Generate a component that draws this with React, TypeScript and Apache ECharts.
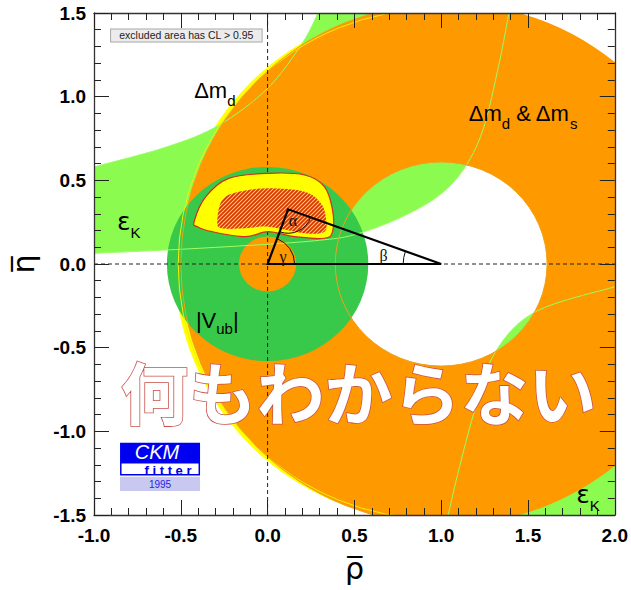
import React, { useEffect, useRef } from "react";
import * as echarts from "echarts";

// ---------------- data: the (rho-bar, eta-bar) plane ----------------
const rhoRange = [-1.0, 2.0];
const etaRange = [-1.5, 1.5];
const tickStep = 0.5;

// ellipses / circles: [centre rho, centre eta, radius along rho, radius along eta]
const deltaMdOuter = [0.97, 0.0, 1.505, 1.54];
const deltaMdContour = [0.975, 0.0, 1.49, 1.525];
const deltaMsOuter = [1.03, 0.0, 1.53, 1.56];
const deltaMInner = [1.0, 0.0, 0.61, 0.61];
const vubOuter = [0.0, 0.0, 0.58, 0.58];
const vubInner = [0.0, 0.0, 0.165, 0.165];

// epsilon_K band limits [rho, eta]
const epsKLower = [
  [-1.0, 0.064], [-0.5, 0.088], [0.0, 0.118], [0.3, 0.142], [0.5, 0.175],
  [0.75, 0.27], [0.975, 0.4], [1.125, 0.56], [1.24, 0.8], [1.33, 1.18], [1.39, 1.5],
];
const epsKUpper = [
  [-1.0, 0.58], [-0.58, 0.7], [-0.28, 0.83], [0.0, 1.05], [0.2, 1.32], [0.29, 1.5],
];
const epsKLowerRight = [
  [1.04, -1.5], [1.106, -1.21], [1.199, -0.853], [1.313, -0.524], [1.544, -0.285], [2.0, -0.136],
];

// global fit CL contour
const clOuter = [
  [-0.423, 0.253], [-0.356, 0.402], [-0.224, 0.512], [0.004, 0.542], [0.213, 0.532],
  [0.327, 0.462], [0.374, 0.323], [0.374, 0.193], [0.327, 0.154], [0.156, 0.163],
  [0.004, 0.193], [-0.129, 0.163], [-0.319, 0.193], [-0.404, 0.223],
];
const clInner = [
  [-0.29, 0.253], [-0.262, 0.383], [-0.167, 0.432], [0.004, 0.452], [0.213, 0.432],
  [0.307, 0.363], [0.336, 0.273], [0.327, 0.193], [0.213, 0.184], [0.004, 0.223],
  [-0.129, 0.213], [-0.262, 0.213],
];

// unitarity triangle: origin, (1,0), apex
const utVertices = [[0.0, 0.0], [1.0, 0.0], [0.118, 0.327]];
const referenceLines = [
  [[0.0, -1.5], [0.0, 1.5]],
  [[-1.0, 0.0], [2.0, 0.0]],
];

// annotation anchors in data coordinates
const anchorDmd = [-0.423, 1.034];
const anchorDmds = [1.159, 0.897];
const anchorEpsLeft = [-0.867, 0.254];
const anchorEpsRight = [1.778, -1.375];
const anchorVub = [-0.413, -0.335];
const anchorNothing = [0.523, -0.753];
const anchorClNote = [-0.468, 1.366];
const anchorLogo = [-0.85, -1.068];
const anchorGamma = [0.089, 0.044];
const anchorAlpha = [0.146, 0.257];
const anchorBeta = [0.668, 0.05];

// ---------------- helpers ----------------
const f = (n: number) => n.toFixed(2);

function ellipseD(api: any, e: number[], ccw: boolean, leftHalfOnly = false) {
  const [x, y] = api.coord([e[0], e[1]]);
  const rx = api.size([e[2], 0], [e[0], e[1]])[0];
  const ry = api.size([0, e[3]], [e[0], e[1]])[1];
  if (leftHalfOnly) {
    return `M${f(x)} ${f(y - ry)} A${f(rx)} ${f(ry)} 0 0 0 ${f(x - rx)} ${f(y)} A${f(rx)} ${f(ry)} 0 0 0 ${f(x)} ${f(y + ry)}`;
  }
  const s = ccw ? 0 : 1;
  const pts = ccw
    ? [[x, y - ry], [x - rx, y], [x, y + ry], [x + rx, y]]
    : [[x, y + ry], [x - rx, y], [x, y - ry], [x + rx, y]];
  let d = `M${f(x + rx)} ${f(y)}`;
  for (const p of pts) d += ` A${f(rx)} ${f(ry)} 0 0 ${s} ${f(p[0])} ${f(p[1])}`;
  return d + " Z";
}

// Catmull-Rom spline through the given pixel points
function splineD(pts: number[][], start: string, closed = false) {
  const n = pts.length;
  const get = (i: number) => (closed ? pts[(i + n) % n] : pts[Math.max(0, Math.min(n - 1, i))]);
  let d = `${start}${f(pts[0][0])} ${f(pts[0][1])}`;
  const segs = closed ? n : n - 1;
  for (let i = 0; i < segs; i++) {
    const p0 = get(i - 1), p1 = get(i), p2 = get(i + 1), p3 = get(i + 2);
    const c1 = [p1[0] + (p2[0] - p0[0]) / 6, p1[1] + (p2[1] - p0[1]) / 6];
    const c2 = [p2[0] - (p3[0] - p1[0]) / 6, p2[1] - (p3[1] - p1[1]) / 6];
    d += ` C${f(c1[0])} ${f(c1[1])} ${f(c2[0])} ${f(c2[1])} ${f(p2[0])} ${f(p2[1])}`;
  }
  return closed ? d + " Z" : d;
}

const toPx = (api: any, pts: number[][]) => pts.map((p) => api.coord(p));

const SANS = '"Liberation Sans", Arial, Helvetica, sans-serif';

export default function App() {
  const ref = useRef<HTMLDivElement>(null);

  useEffect(() => {
    if (!ref.current) return;
    const chart = echarts.init(ref.current, null, { renderer: "svg" });

    // hatch pattern for the inner CL region
    const tile = document.createElement("canvas");
    tile.width = 4;
    tile.height = 4;
    const g = tile.getContext("2d")!;
    g.fillStyle = "#ffe030";
    g.fillRect(0, 0, 4, 4);
    g.strokeStyle = "#dc2e1a";
    g.lineWidth = 1.8;
    g.beginPath();
    g.moveTo(0, 4); g.lineTo(4, 0);
    g.moveTo(-1, 1); g.lineTo(1, -1);
    g.moveTo(3, 5); g.lineTo(5, 3);
    g.stroke();
    const hatch: any = { image: tile, repeat: "repeat", imageWidth: 4, imageHeight: 4 };

    const custom = (name: string, z: number, clip: boolean, build: (api: any) => any) => ({
      type: "custom",
      name,
      coordinateSystem: "cartesian2d",
      xAxisIndex: 0,
      yAxisIndex: 0,
      data: [[0, 0]],
      clip,
      silent: true,
      z,
      renderItem: (_p: any, api: any) => build(api),
    });

    const ring = (outer: number[], inner: number[], color: string) => (api: any) => ({
      type: "path",
      shape: { pathData: ellipseD(api, outer, false) + " " + ellipseD(api, inner, true) },
      style: { fill: color, stroke: "none" },
    });

    const sub = (size: number) => ({ fontSize: size, fontFamily: SANS, fill: "#000", verticalAlign: "bottom" });

    const axisCommon = {
      type: "value",
      interval: tickStep,
      z: 30,
      axisLine: { show: true, onZero: false, lineStyle: { color: "#333", width: 1.3 } },
      axisTick: { show: true, inside: true, length: 15, lineStyle: { color: "#222", width: 1 } },
      minorTick: { show: true, splitNumber: 5, length: 7, lineStyle: { color: "#222", width: 1 } },
      splitLine: { show: false },
      minorSplitLine: { show: false },
    };
    const labelStyle = {
      fontSize: 19,
      fontWeight: "bold",
      fontFamily: SANS,
      color: "#000",
      formatter: (v: number) => v.toFixed(1),
    };

    const option: any = {
      animation: false,
      backgroundColor: "#fff",
      grid: { left: 93, top: 13, width: 527, height: 502, show: false },
      xAxis: [
        {
          ...axisCommon,
          min: rhoRange[0],
          max: rhoRange[1],
          position: "bottom",
          name: "ρ\u0305",
          nameLocation: "middle",
          nameGap: 38,
          nameTextStyle: { fontSize: 30, fontFamily: '"DejaVu Sans", sans-serif', color: "#000" },
          axisLabel: { ...labelStyle, margin: 11 },
        },
        {
          ...axisCommon,
          min: rhoRange[0],
          max: rhoRange[1],
          position: "top",
          axisLabel: { show: false },
        },
      ],
      yAxis: [
        {
          ...axisCommon,
          min: etaRange[0],
          max: etaRange[1],
          position: "left",
          name: "η\u0305",
          nameLocation: "middle",
          nameGap: 56,
          nameTextStyle: { fontSize: 30, fontFamily: '"DejaVu Sans", sans-serif', color: "#000" },
          axisLabel: { ...labelStyle, margin: 8 },
        },
        {
          ...axisCommon,
          min: etaRange[0],
          max: etaRange[1],
          position: "right",
          axisLabel: { show: false },
        },
      ],
      series: [
        custom("Δm_d", 2, true, ring(deltaMdOuter, deltaMInner, "#ffff00")),
        custom("ε_K", 3, true, (api: any) => {
          const lo = toPx(api, epsKLower);
          const hi = toPx(api, epsKUpper).slice().reverse();
          const lr = toPx(api, epsKLowerRight);
          const corner = api.coord([rhoRange[1], etaRange[0]]);
          return {
            type: "group",
            children: [
              {
                type: "path",
                shape: { pathData: splineD(lo, "M") + " " + splineD(hi, "L") + " Z" },
                style: { fill: "#8cfb50" },
              },
              {
                type: "path",
                shape: { pathData: splineD(lr, "M") + ` L${f(corner[0])} ${f(corner[1])} Z` },
                style: { fill: "#8cfb50" },
              },
            ],
          };
        }),
        custom("Δm_d & Δm_s", 4, true, ring(deltaMsOuter, deltaMInner, "#fe9900")),
        custom("|V_ub|", 5, true, ring(vubOuter, vubInner, "#38c84a")),
        custom("outlines", 6, true, (api: any) => ({
          type: "group",
          children: [
            { type: "path", shape: { pathData: splineD(toPx(api, epsKLower), "M") }, style: { fill: "none", stroke: "#9cff66", lineWidth: 1 } },
            { type: "path", shape: { pathData: splineD(toPx(api, epsKUpper), "M") }, style: { fill: "none", stroke: "#9cff66", lineWidth: 1 } },
            { type: "path", shape: { pathData: splineD(toPx(api, epsKLowerRight), "M") }, style: { fill: "none", stroke: "#9cff66", lineWidth: 1 } },
            { type: "path", shape: { pathData: ellipseD(api, deltaMdContour, false, true) }, style: { fill: "none", stroke: "#f4f000", lineWidth: 1 } },
            { type: "path", shape: { pathData: ellipseD(api, deltaMsOuter, false, true) }, style: { fill: "none", stroke: "#f0a020", lineWidth: 1 } },
            { type: "path", shape: { pathData: ellipseD(api, deltaMInner, false) }, style: { fill: "none", stroke: "#f0a020", lineWidth: 1 } },
          ],
        })),
        custom("reference", 7, true, (api: any) => ({
          type: "group",
          children: referenceLines.map((l) => {
            const a = api.coord(l[0]);
            const b = api.coord(l[1]);
            return {
              type: "line",
              shape: { x1: a[0], y1: a[1], x2: b[0], y2: b[1] },
              style: { stroke: "#222", lineWidth: 1, lineDash: [4, 3] },
            };
          }),
        })),
        custom("CL", 8, true, (api: any) => ({
          type: "group",
          children: [
            {
              type: "path",
              shape: { pathData: splineD(toPx(api, clOuter), "M", true) },
              style: { fill: "#ffff00", stroke: "#d42c1c", lineWidth: 1.2 },
            },
            {
              type: "path",
              shape: { pathData: splineD(toPx(api, clInner), "M", true) },
              style: { fill: hatch, stroke: "none" },
            },
          ],
        })),
        custom("triangle", 9, true, (api: any) => {
          const [O, B, A] = toPx(api, utVertices);
          const ang = (p: number[], q: number[]) => Math.atan2(q[1] - p[1], q[0] - p[0]);
          const arc = (c: number[], r: number, s: number, e: number) => ({
            type: "arc",
            shape: { cx: c[0], cy: c[1], r, startAngle: s, endAngle: e, clockwise: true },
            style: { stroke: "#111", fill: "none", lineWidth: 1 },
          });
          const greek = (t: string, p: number[]) => {
            const q = api.coord(p);
            return {
              type: "text",
              x: q[0],
              y: q[1],
              style: { text: t, fontSize: 16, fontFamily: '"Liberation Serif", serif', fill: "#111", align: "center", verticalAlign: "middle" },
            };
          };
          let bEnd = ang(B, A);
          if (bEnd < Math.PI) bEnd += Math.PI * 2;
          return {
            type: "group",
            children: [
              {
                type: "polygon",
                shape: { points: [O, B, A] },
                style: { fill: "none", stroke: "#000", lineWidth: 2.2, lineJoin: "miter" },
              },
              arc(O, 27, ang(O, A), ang(O, B)),
              arc(A, 24, ang(A, B), ang(A, O)),
              arc(B, 38, Math.PI, bEnd),
              greek("γ", anchorGamma),
              greek("α", anchorAlpha),
              greek("β", anchorBeta),
            ],
          };
        }),
        custom("labels", 10, false, (api: any) => {
          const at = (p: number[]) => api.coord(p);
          const dmd = at(anchorDmd);
          const dmds = at(anchorDmds);
          const epsL = at(anchorEpsLeft);
          const epsR = at(anchorEpsRight);
          const vub = at(anchorVub);
          const nothing = at(anchorNothing);
          const note = at(anchorClNote);
          const logo = at(anchorLogo);
          const main = (size: number, lh: number, family = SANS) => ({ fontSize: size, fontFamily: family, fill: "#000", lineHeight: lh });
          const epsText = (p: number[]) => ({
            type: "text",
            x: p[0],
            y: p[1],
            style: {
              text: "{a|ε}{b|K}",
              align: "left",
              verticalAlign: "middle",
              rich: { a: main(25, 37, '"DejaVu Sans", sans-serif'), b: sub(15) },
            },
          });
          return {
            type: "group",
            children: [
              {
                type: "text",
                x: dmd[0],
                y: dmd[1],
                style: { text: "{a|Δm}{b|d}", align: "left", verticalAlign: "middle", rich: { a: main(22, 34), b: sub(15) } },
              },
              {
                type: "text",
                x: dmds[0],
                y: dmds[1],
                style: {
                  text: "{a|Δm}{b|d}{a| & Δm}{b|s}",
                  align: "left",
                  verticalAlign: "middle",
                  rich: { a: main(22, 34), b: sub(15) },
                },
              },
              epsText(epsL),
              epsText(epsR),
              {
                type: "text",
                x: vub[0],
                y: vub[1],
                style: {
                  text: "{a||V}{b|ub}{a||}",
                  align: "left",
                  verticalAlign: "middle",
                  rich: { a: main(22, 32), b: sub(15) },
                },
              },
              {
                type: "text",
                x: note[0],
                y: note[1],
                style: {
                  text: "excluded area has CL > 0.95",
                  fontSize: 10.5,
                  fontFamily: SANS,
                  fill: "#222",
                  align: "center",
                  verticalAlign: "middle",
                  backgroundColor: "#ececec",
                  borderColor: "#a8a8a8",
                  borderWidth: 1,
                  padding: [1, 8, 0, 8],
                },
              },
              {
                type: "group",
                x: logo[0],
                y: logo[1],
                children: [
                  { type: "rect", shape: { x: 0, y: 0, width: 80, height: 20 }, style: { fill: "#0000f0" } },
                  {
                    type: "text",
                    x: 37,
                    y: 9.5,
                    style: { text: "CKM", fontSize: 20, lineHeight: 16, fontStyle: "italic", fontFamily: SANS, fill: "#fff", align: "center", verticalAlign: "middle" },
                  },
                  { type: "rect", shape: { x: 0.75, y: 20, width: 78.5, height: 12 }, style: { fill: "#fff", stroke: "#0000f0", lineWidth: 1.5 } },
                  {
                    type: "text",
                    x: 48,
                    y: 27.3,
                    style: { text: "f i t t e r", fontSize: 13, lineHeight: 9, fontWeight: "bold", fontFamily: SANS, fill: "#0000f0", align: "center", verticalAlign: "middle" },
                  },
                  { type: "rect", shape: { x: 0, y: 34, width: 80, height: 14.3 }, style: { fill: "#c8c8f0" } },
                  {
                    type: "text",
                    x: 40,
                    y: 41.5,
                    style: { text: "1995", fontSize: 10, lineHeight: 10, fontFamily: SANS, fill: "#2424e8", align: "center", verticalAlign: "middle" },
                  },
                ],
              },
              {
                type: "text",
                x: nothing[0],
                y: nothing[1],
                style: {
                  text: "何もわからない",
                  fontSize: 68,
                  fontWeight: "bold",
                  fontFamily: '"Noto Sans CJK JP", sans-serif',
                  fill: "#ffffff",
                  stroke: "#c8524a",
                  lineWidth: 1.6,
                  align: "center",
                  verticalAlign: "middle",
                },
              },
            ],
          };
        }),
      ],
    };

    chart.setOption(option);
    return () => chart.dispose();
  }, []);

  return (
    <div
      ref={ref}
      style={{ position: "absolute", left: 0, top: 0, width: 631, height: 590, background: "#fff" }}
    />
  );
}
